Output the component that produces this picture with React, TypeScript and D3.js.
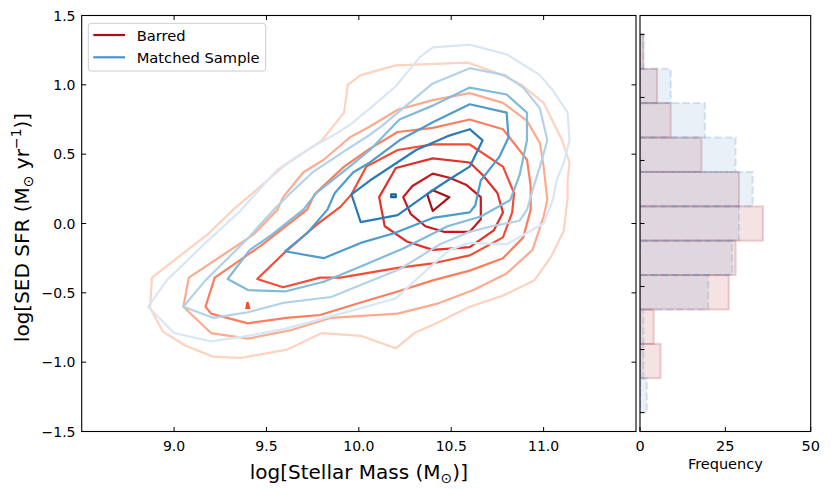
import * as d3 from "d3";
import { useEffect, useRef } from "react";

type Pt = [number, number];

// Contour lines: [log M*, log SFR], outermost level first.
const barredLevel1: Pt[] = [
  [8.88, -0.39], [9.18, -0.08], [9.32, 0.1], [9.4, 0.19], [9.59, 0.41], [9.8, 0.6],
  [9.92, 0.8], [9.94, 1.0], [10.01, 1.07], [10.2, 1.14], [10.59, 1.16], [10.76, 1.08],
  [10.88, 1.0], [11.0, 0.87], [11.1, 0.6], [11.14, 0.44], [11.13, 0.31], [11.13, 0.19],
  [11.11, -0.05], [11.04, -0.24], [10.95, -0.41], [10.78, -0.52], [10.6, -0.6],
  [10.42, -0.72], [10.3, -0.79], [10.2, -0.9], [10.01, -0.81], [9.8, -0.79],
  [9.61, -0.91], [9.36, -0.97], [9.21, -0.96], [9.06, -0.88], [8.94, -0.78], [8.87, -0.61],
];
const barredLevel2: Pt[] = [
  [9.05, -0.6], [9.08, -0.39], [9.43, -0.08], [9.56, 0.1], [9.59, 0.19], [9.7, 0.37],
  [9.81, 0.46], [9.95, 0.62], [10.06, 0.7], [10.21, 0.82], [10.4, 0.89], [10.6, 0.94],
  [10.78, 0.87], [10.91, 0.74], [10.98, 0.58], [11.0, 0.41], [11.02, 0.17], [11.0, 0.05],
  [10.94, -0.19], [10.8, -0.36], [10.62, -0.48], [10.42, -0.58], [10.21, -0.65],
  [9.85, -0.68], [9.63, -0.77], [9.4, -0.83], [9.2, -0.79],
];
const barredLevel3: Pt[] = [
  [9.17, -0.6], [9.22, -0.39], [9.47, -0.16], [9.72, 0.1], [9.76, 0.21], [9.92, 0.41],
  [10.06, 0.54], [10.21, 0.66], [10.4, 0.69], [10.6, 0.75], [10.78, 0.68], [10.91, 0.46],
  [10.93, 0.27], [10.93, 0.1], [10.89, -0.1], [10.78, -0.25], [10.6, -0.34], [10.4, -0.41],
  [10.21, -0.49], [10.01, -0.57], [9.79, -0.66], [9.61, -0.68], [9.4, -0.72], [9.2, -0.65],
];
const barredLevel4: Pt[] = [
  [9.45, -0.4], [9.59, -0.22], [9.77, -0.01], [9.9, 0.12], [9.96, 0.21], [10.04, 0.41],
  [10.21, 0.53], [10.4, 0.57], [10.6, 0.57], [10.78, 0.41], [10.84, 0.22], [10.83, 0.08],
  [10.78, -0.1], [10.6, -0.23], [10.39, -0.29], [10.21, -0.32], [9.9, -0.39], [9.79, -0.39],
  [9.59, -0.46],
];
const barredLevel5: Pt[] = [
  [10.11, 0.19], [10.2, 0.4], [10.4, 0.47], [10.6, 0.44], [10.67, 0.35], [10.75, 0.22],
  [10.78, 0.08], [10.73, -0.05], [10.6, -0.17], [10.4, -0.19], [10.26, -0.13], [10.14, -0.02],
];
const barredLevel6: Pt[] = [
  [10.24, 0.19], [10.29, 0.27], [10.4, 0.36], [10.49, 0.33], [10.58, 0.28], [10.66, 0.19],
  [10.66, 0.03], [10.6, -0.06], [10.46, -0.06], [10.36, -0.02], [10.28, 0.07],
];
const barredLevel7: Pt[] = [[10.37, 0.21], [10.4, 0.24], [10.49, 0.19], [10.4, 0.09]];
const barredIsland: Pt[] = [[9.397, -0.567], [9.407, -0.61], [9.391, -0.61]];

const barredContours = [
  barredLevel1, barredLevel2, barredLevel3, barredLevel4, barredLevel5, barredLevel6, barredLevel7,
];
const barredColors = ["#fdd2bf", "#fcab8f", "#fb7e5e", "#f34d37", "#e0302a", "#c8171c", "#a50f15"];

const matchedLevel1: Pt[] = [
  [8.86, -0.6], [8.96, -0.41], [9.17, -0.14], [9.35, 0.08], [9.56, 0.39], [9.72, 0.53],
  [9.88, 0.65], [9.95, 0.71], [10.06, 0.83], [10.2, 0.99], [10.33, 1.2], [10.4, 1.27],
  [10.6, 1.29], [10.8, 1.22], [10.98, 1.07], [11.05, 0.96], [11.13, 0.8], [11.14, 0.6],
  [11.11, 0.44], [11.07, 0.31], [11.05, 0.17], [11.0, 0.0], [10.8, -0.15], [10.6, -0.14],
  [10.49, -0.19], [10.38, -0.32], [10.2, -0.54], [9.85, -0.67], [9.6, -0.76], [9.4, -0.81],
  [9.2, -0.85], [9.0, -0.79],
];
const matchedLevel2: Pt[] = [
  [9.05, -0.6], [9.17, -0.41], [9.39, -0.12], [9.54, 0.1], [9.63, 0.22], [9.75, 0.37],
  [9.92, 0.52], [10.06, 0.64], [10.13, 0.71], [10.4, 1.01], [10.6, 1.12], [10.79, 1.07],
  [10.89, 0.98], [10.98, 0.83], [11.02, 0.6], [10.98, 0.41], [10.94, 0.24], [10.91, 0.1],
  [10.87, 0.02], [10.72, -0.02], [10.6, -0.06], [10.44, -0.15], [10.22, -0.33],
  [9.85, -0.53], [9.6, -0.57], [9.4, -0.64], [9.21, -0.68],
];
const matchedLevel3: Pt[] = [
  [9.29, -0.4], [9.41, -0.19], [9.53, -0.08], [9.7, 0.1], [9.77, 0.22], [9.94, 0.4],
  [10.06, 0.53], [10.22, 0.75], [10.4, 0.85], [10.6, 0.98], [10.8, 0.93], [10.91, 0.8],
  [10.91, 0.6], [10.87, 0.35], [10.82, 0.17], [10.66, 0.05], [10.48, -0.02], [10.24, -0.18],
  [10.01, -0.31], [9.81, -0.42], [9.6, -0.49], [9.4, -0.48],
];
const matchedLevel4: Pt[] = [
  [9.6, -0.2], [9.72, -0.07], [9.83, 0.1], [9.87, 0.22], [9.97, 0.37], [10.06, 0.44],
  [10.22, 0.6], [10.4, 0.73], [10.6, 0.86], [10.8, 0.8], [10.81, 0.62], [10.76, 0.48],
  [10.66, 0.31], [10.63, 0.13], [10.6, 0.08], [10.4, 0.04], [10.19, -0.07], [10.01, -0.14],
  [9.81, -0.25],
];
const matchedLevel5: Pt[] = [
  [9.96, 0.21], [10.01, 0.01], [10.21, 0.06], [10.4, 0.24], [10.48, 0.31], [10.6, 0.41],
  [10.67, 0.6], [10.6, 0.68], [10.48, 0.63], [10.31, 0.53], [10.06, 0.31],
];
const matchedLevel6: Pt[] = [[10.175, 0.21], [10.2, 0.21], [10.2, 0.19], [10.175, 0.19]];

const matchedContours = [
  matchedLevel1, matchedLevel2, matchedLevel3, matchedLevel4, matchedLevel5, matchedLevel6,
];
const matchedColors = ["#d9e7f5", "#b2d2e8", "#81badb", "#4f9bcb", "#2b7bba", "#1a5fa3"];

// SFR histogram (horizontal), bins from -1.5 to 1.5
const sfrBinEdges = [-1.5, -1.227, -0.955, -0.682, -0.409, -0.136, 0.136, 0.409, 0.682, 0.955, 1.227, 1.5];
const barredCounts = [0, 6, 4, 26, 28, 36, 29, 18, 9, 5, 1];
const matchedCounts = [2, 1, 1, 20, 27, 29, 33, 28, 19, 9, 1];

const massTicks = [9.0, 9.5, 10.0, 10.5, 11.0];
const sfrTicks = [-1.5, -1.0, -0.5, 0.0, 0.5, 1.0, 1.5];
const freqTicks = [0, 25, 50];

const legendItems = [
  { label: "Barred", color: "#a50f15" },
  { label: "Matched Sample", color: "#4a94cb" },
];

const WIDTH = 831;
const HEIGHT = 489;
const FONT = "'DejaVu Sans', sans-serif";

export default function App() {
  const svgRef = useRef<SVGSVGElement>(null);

  useEffect(() => {
    document.body.style.margin = "0";
    if (!svgRef.current) return;
    const svg = d3.select(svgRef.current);
    svg.selectAll("*").remove();

    const main = { left: 81.7, right: 636, top: 15.5, bottom: 431.5 };
    const side = { left: 640, right: 810.7, top: 15.5, bottom: 431.5 };

    const x = d3.scaleLinear().domain([8.5, 11.5]).range([main.left, main.right]);
    const y = d3.scaleLinear().domain([-1.5, 1.5]).range([main.bottom, main.top]);
    const hx = d3.scaleLinear().domain([0, 50]).range([side.left, side.right]);
    const hy = d3.scaleLinear().domain([-1.65, 1.65]).range([side.bottom, side.top]);

    const defs = svg.append("defs");
    defs
      .append("clipPath")
      .attr("id", "main-clip")
      .append("rect")
      .attr("x", main.left)
      .attr("y", main.top)
      .attr("width", main.right - main.left)
      .attr("height", main.bottom - main.top);
    defs
      .append("clipPath")
      .attr("id", "side-clip")
      .append("rect")
      .attr("x", side.left)
      .attr("y", side.top)
      .attr("width", side.right - side.left)
      .attr("height", side.bottom - side.top);

    // Contours
    const line = d3
      .line<Pt>()
      .x((d) => x(d[0]))
      .y((d) => y(d[1]))
      .curve(d3.curveLinearClosed);

    const cg = svg.append("g").attr("clip-path", "url(#main-clip)");
    const drawSet = (sets: Pt[][], colors: string[]) => {
      sets.forEach((pts, i) => {
        cg.append("path")
          .attr("d", line(pts))
          .attr("fill", "none")
          .attr("stroke", colors[i])
          .attr("stroke-width", 2.2)
          .attr("stroke-linejoin", "round");
      });
    };
    drawSet(barredContours, barredColors);
    cg.append("path")
      .attr("d", line(barredIsland))
      .attr("fill", barredColors[3])
      .attr("stroke", barredColors[3])
      .attr("stroke-width", 2);
    drawSet(matchedContours, matchedColors);

    // Histogram
    const hg = svg.append("g").attr("clip-path", "url(#side-clip)");
    const drawHist = (
      counts: number[],
      fill: string,
      fillAlpha: number,
      edge: string,
      edgeAlpha: number,
      dashed: boolean,
    ) => {
      counts.forEach((c, i) => {
        const y0 = hy(sfrBinEdges[i + 1]);
        const y1 = hy(sfrBinEdges[i]);
        hg.append("rect")
          .attr("x", hx(0))
          .attr("y", y0)
          .attr("width", hx(c) - hx(0))
          .attr("height", y1 - y0)
          .attr("fill", fill)
          .attr("fill-opacity", fillAlpha)
          .attr("stroke", edge)
          .attr("stroke-opacity", edgeAlpha)
          .attr("stroke-width", 2)
          .attr("stroke-dasharray", dashed ? "7.4,3.2" : null);
      });
    };
    drawHist(barredCounts, "#b5343c", 0.14, "#b5343c", 0.22, false);
    drawHist(matchedCounts, "#3a78b8", 0.11, "#4a8fcb", 0.22, true);

    // Frames
    const frame = (r: typeof main) =>
      svg
        .append("rect")
        .attr("x", r.left)
        .attr("y", r.top)
        .attr("width", r.right - r.left)
        .attr("height", r.bottom - r.top)
        .attr("fill", "none")
        .attr("stroke", "#000")
        .attr("stroke-width", 1.1);
    frame(main);
    frame(side);

    const tl = 4.5;
    const ticks = svg.append("g").attr("stroke", "#000").attr("stroke-width", 1);
    massTicks.forEach((t) => {
      ticks.append("line").attr("x1", x(t)).attr("x2", x(t)).attr("y1", main.bottom).attr("y2", main.bottom - tl);
      ticks.append("line").attr("x1", x(t)).attr("x2", x(t)).attr("y1", main.top).attr("y2", main.top + tl);
    });
    sfrTicks.forEach((t) => {
      ticks.append("line").attr("x1", main.left).attr("x2", main.left + tl).attr("y1", y(t)).attr("y2", y(t));
      ticks.append("line").attr("x1", main.right).attr("x2", main.right - tl).attr("y1", y(t)).attr("y2", y(t));
      ticks.append("line").attr("x1", side.left).attr("x2", side.left + tl).attr("y1", hy(t)).attr("y2", hy(t));
    });
    freqTicks.forEach((t) => {
      ticks.append("line").attr("x1", hx(t)).attr("x2", hx(t)).attr("y1", side.bottom).attr("y2", side.bottom - tl);
    });

    const fmt = d3.format(".1f");
    const labels = svg.append("g").style("font-family", FONT).attr("fill", "#000");
    massTicks.forEach((t) => {
      labels.append("text").attr("x", x(t)).attr("y", 450.5).attr("text-anchor", "middle").style("font-size", "14px").text(fmt(t));
    });
    sfrTicks.forEach((t) => {
      labels
        .append("text")
        .attr("x", 75.5)
        .attr("y", y(t))
        .attr("dy", "0.36em")
        .attr("text-anchor", "end")
        .style("font-size", "14px")
        .text(fmt(t));
    });
    freqTicks.forEach((t) => {
      labels.append("text").attr("x", hx(t)).attr("y", 450.5).attr("text-anchor", "middle").style("font-size", "14.5px").text(String(t));
    });
    labels.append("text").attr("x", hx(25)).attr("y", 468.5).attr("text-anchor", "middle").style("font-size", "14.5px").text("Frequency");

    // Axis titles
    const xt = labels.append("text").attr("x", (main.left + main.right) / 2).attr("y", 479).attr("text-anchor", "middle").style("font-size", "20px");
    xt.append("tspan").text("log[Stellar Mass (M");
    xt.append("tspan").attr("dy", 4).style("font-size", "14px").text("⊙");
    xt.append("tspan").attr("dy", -4).text(")]");

    const yt = labels
      .append("text")
      .attr("transform", `translate(29,${(main.top + main.bottom) / 2 + 4}) rotate(-90)`)
      .attr("text-anchor", "middle")
      .style("font-size", "20px");
    yt.append("tspan").text("log[SED SFR (M");
    yt.append("tspan").attr("dy", 4).style("font-size", "14px").text("⊙");
    yt.append("tspan").attr("dy", -4).text(" yr");
    yt.append("tspan").attr("dy", -8).style("font-size", "14px").text("−1");
    yt.append("tspan").attr("dy", 8).text(")]");

    // Legend
    const lg = svg.append("g");
    lg.append("rect")
      .attr("x", 88.3)
      .attr("y", 23.3)
      .attr("width", 177.4)
      .attr("height", 47.7)
      .attr("rx", 3)
      .attr("fill", "#fff")
      .attr("fill-opacity", 0.8)
      .attr("stroke", "#cccccc")
      .attr("stroke-width", 1);
    legendItems.forEach((item, i) => {
      const cy = 35 + i * 22.3;
      lg.append("line")
        .attr("x1", 93.3)
        .attr("x2", 125)
        .attr("y1", cy)
        .attr("y2", cy)
        .attr("stroke", item.color)
        .attr("stroke-width", 2.2);
      lg.append("text")
        .attr("x", 136.7)
        .attr("y", cy + 5.5)
        .style("font-family", FONT)
        .style("font-size", "14.7px")
        .attr("fill", "#000")
        .text(item.label);
    });
  }, []);

  return <svg ref={svgRef} width={WIDTH} height={HEIGHT} style={{ display: "block" }} />;
}
